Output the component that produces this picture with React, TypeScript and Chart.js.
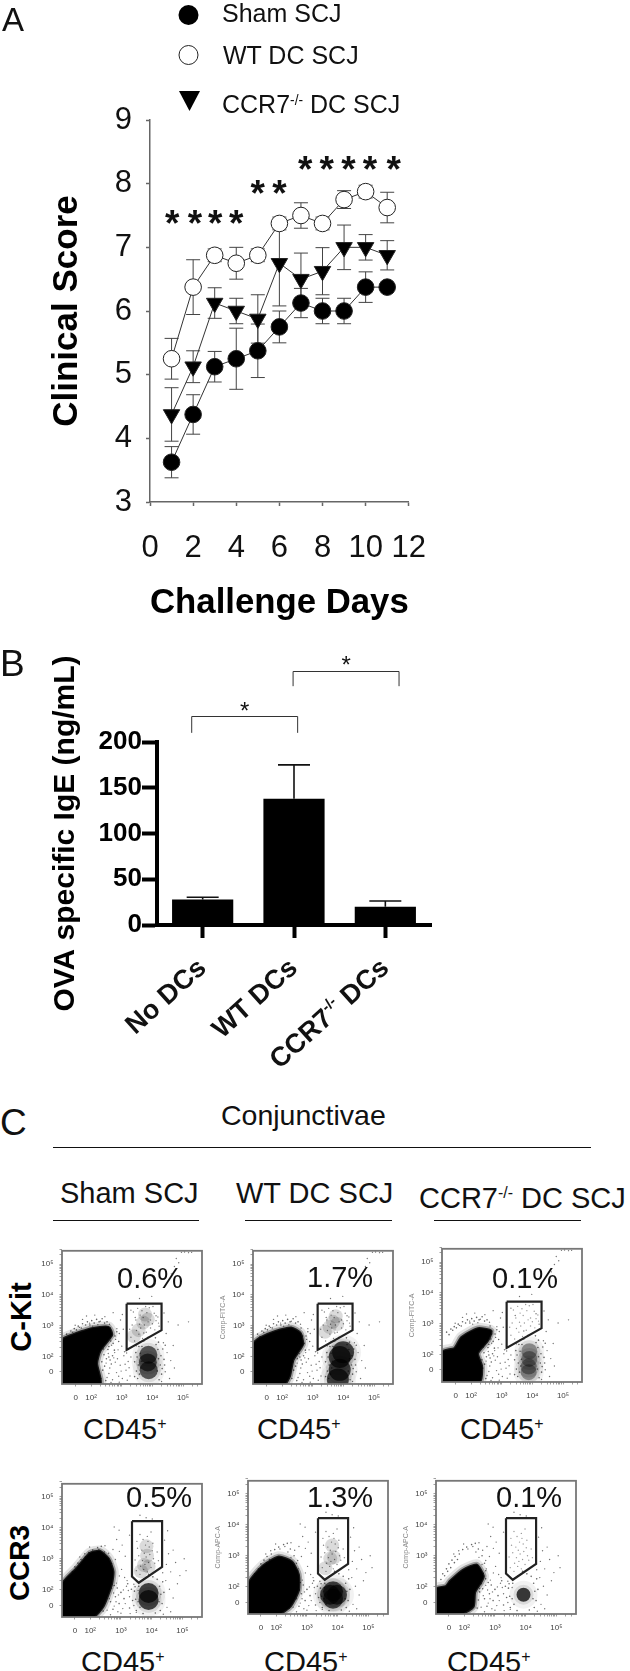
import React, { useEffect, useRef } from "react";
import { Chart, registerables } from "chart.js";

Chart.register(...registerables);

type Pt = [number, number];

/* ---------- Panel A data ---------- */
const DAYS = [1, 2, 3, 4, 5, 6, 7, 8, 9, 10, 11];
const SHAM = [3.625, 4.375, 5.125, 5.25, 5.375, 5.75, 6.125, 6.0, 6.0, 6.375, 6.375];
const SHAM_ERR = [0.245, 0.31, 0.24, 0.48, 0.42, 0.25, 0.23, 0.2, 0.2, 0.24, 0.02];
const WT = [5.25, 6.375, 6.875, 6.75, 6.875, 7.375, 7.5, 7.375, 7.75, 7.875, 7.625];
const WT_ERR = [0.32, 0.43, 0.1, 0.25, 0.1, 0.1, 0.2, 0.1, 0.14, 0.1, 0.24];
const CCR7 = [4.375, 5.125, 6.125, 6.0, 5.875, 6.75, 6.5, 6.625, 7.0, 7.0, 6.875];
const CCR7_ERR = [0.42, 0.25, 0.24, 0.2, 0.38, 0.67, 0.41, 0.37, 0.35, 0.2, 0.23];
const STARS_A: Pt[] = [[1.03, 7.49], [2.08, 7.49], [3.02, 7.49], [4.0, 7.49], [5.0, 7.96], [6.0, 7.96],
  [7.2, 8.34], [8.2, 8.34], [9.2, 8.34], [10.2, 8.34], [11.3, 8.34]];

/* ---------- Panel B data ---------- */
const GROUPS = ["No DCs", "WT DCs", "CCR7-/- DCs"];
const IGE = [28, 138, 20];
const IGE_ERR = [2.3, 37, 6.3];
const BRACKETS = [
  { from: -0.12, to: 1.04, top: 228, foot: 210, star: 240 },
  { from: 0.99, to: 2.15, top: 278, foot: 261, star: 291 },
];

/* ---------- Panel C data (decade units) ---------- */
const MINOR_TICKS = [1.5, 2, 2.3, 2.48, 2.6, 2.7, 2.78, 2.85, 2.9, 2.95, 3, 3.3, 3.48, 3.6, 3.7, 3.78, 3.85, 3.9, 3.95, 4,
  4.3, 4.48, 4.6, 4.7, 4.78, 4.85, 4.9, 4.95, 5, 5.3, 5.48];
const TICK_NAMES: Record<string, string> = { "1.5": "0", "2": "10²", "3": "10³", "4": "10⁴", "5": "10⁵" };

const GATE_ROW1: Pt[] = [[3.16, 3.71], [4.3, 3.71], [4.3, 2.85], [3.16, 2.21], [3.16, 3.71]];
const GATE_ROW2: Pt[] = [[3.36, 4.21], [4.34, 4.21], [4.34, 2.74], [3.58, 2.23], [3.36, 2.43], [3.36, 4.21]];

const SPARSE_ROW1: Pt[] = [
  [2.52, 1.31], [2.61, 1.62], [2.7, 1.24], [2.74, 1.95], [2.83, 1.47], [2.88, 2.21], [2.95, 1.71], [3.02, 1.28], [3.07, 2.02], [3.14, 1.55],
  [3.21, 1.83], [3.27, 1.36], [2.56, 2.09], [2.67, 2.36], [2.79, 1.81], [2.92, 1.16], [3.0, 2.33], [3.11, 1.74], [3.18, 1.22], [3.3, 1.98],
  [2.49, 1.78], [2.58, 1.44], [2.86, 1.92], [2.98, 1.52], [3.09, 2.15], [3.24, 1.63], [2.65, 1.15], [2.77, 2.12], [2.9, 1.35], [3.16, 2.11],
  [1.48, 3.01], [1.72, 3.2], [1.95, 3.08], [2.12, 3.34], [2.3, 3.14], [2.45, 3.29], [2.6, 3.04], [2.72, 3.42], [2.84, 2.9], [2.96, 3.18],
  [1.62, 2.94], [1.85, 3.31], [2.05, 2.98], [2.22, 3.03], [2.54, 2.78], [2.68, 2.66], [2.8, 2.55], [2.92, 2.74], [3.05, 2.88], [3.02, 3.36],
  [3.3, 3.5], [3.44, 3.26], [3.58, 3.88], [3.72, 2.76], [3.86, 2.62], [3.98, 3.95], [4.12, 3.32], [4.22, 2.98], [4.38, 3.41], [4.45, 2.74],
  [4.52, 3.12], [4.36, 2.44], [4.48, 2.12], [4.6, 1.86], [4.68, 2.35], [4.42, 1.5], [4.56, 1.28], [4.3, 1.18], [4.72, 1.62], [4.84, 3.02],
  [5.18, 3.12], [4.62, 4.68], [4.72, 4.92], [4.86, 5.04], [4.78, 5.18], [4.95, 5.38], [5.05, 5.39], [5.18, 5.37], [5.28, 5.38], [3.48, 2.34],
];
const SPECK_ROW1: Pt[] = [
  [2.32, 1.28], [2.38, 1.55], [2.35, 1.82], [2.42, 2.05], [2.48, 1.21], [2.44, 1.68], [2.5, 1.92], [2.55, 2.22], [2.62, 1.88], [2.4, 2.24],
  [2.72, 2.42], [2.78, 2.66], [2.84, 2.8], [2.76, 2.2], [2.64, 2.5], [2.58, 2.32], [2.9, 2.48], [2.7, 2.02], [2.66, 1.75], [2.58, 1.98],
  [1.2, 2.72], [1.34, 2.82], [1.45, 2.9], [1.58, 2.98], [1.72, 3.06], [1.88, 3.12], [2.02, 3.16], [2.18, 3.2], [2.36, 3.22], [2.52, 3.12],
  [1.28, 2.64], [1.4, 2.78], [1.52, 2.86], [1.68, 2.92], [1.82, 3.02], [1.96, 3.02], [2.1, 3.08], [2.26, 3.12], [2.44, 3.08], [2.62, 2.92],
  [3.42, 1.82], [3.48, 1.52], [3.46, 2.12], [3.52, 1.28], [3.5, 1.98], [3.56, 2.32], [3.42, 1.34], [4.26, 1.72], [4.3, 1.42], [4.28, 2.02],
  [4.34, 2.24], [4.32, 1.6], [4.38, 1.9], [4.42, 2.36], [3.6, 2.46], [3.72, 2.5], [4.1, 2.6], [4.2, 2.46], [3.54, 1.72], [4.4, 1.72],
  [3.58, 1.42], [3.6, 2.1], [3.62, 1.62], [4.18, 2.22], [4.22, 1.24], [4.16, 1.52], [4.2, 1.92], [3.64, 1.84], [3.66, 2.32], [4.12, 2.38],
];
const GATE_SPECK_ROW1: Pt[] = [
  [3.3, 2.62], [3.42, 2.5], [3.56, 2.72], [3.68, 2.58], [3.8, 2.78], [3.94, 2.92], [4.08, 2.86], [4.2, 3.08], [3.34, 3.02], [3.46, 3.18],
  [3.58, 3.04], [3.7, 3.26], [3.82, 3.42], [3.94, 3.18], [4.06, 3.4], [4.18, 3.28], [3.38, 3.44], [3.52, 3.56], [3.66, 3.48], [3.78, 3.62],
  [3.9, 3.58], [4.02, 3.62], [3.26, 2.88], [3.48, 2.84], [3.62, 2.92], [3.74, 3.02], [3.86, 3.12], [4.0, 3.06], [4.12, 3.16], [3.6, 3.34],
];
const SPARSE_ROW2: Pt[] = [
  [2.55, 1.35], [2.62, 1.72], [2.7, 2.05], [2.78, 1.48], [2.85, 2.22], [2.92, 1.84], [3.0, 1.25], [3.08, 2.0], [3.14, 1.56], [3.2, 2.3],
  [3.28, 1.78], [2.6, 2.35], [2.72, 2.58], [2.84, 1.62], [2.95, 2.45], [3.06, 1.4], [3.18, 2.12], [3.3, 1.24], [2.5, 1.95], [2.66, 1.2],
  [2.76, 1.9], [2.9, 1.3], [3.02, 2.66], [3.12, 2.4], [3.24, 1.98], [2.58, 2.72], [2.7, 2.85], [2.82, 2.98], [2.48, 2.95], [2.38, 3.12],
  [2.28, 3.3], [2.12, 3.22], [1.98, 3.38], [1.82, 3.16], [1.66, 3.06], [2.48, 3.42], [2.6, 3.18], [2.74, 3.3], [2.86, 3.62], [2.94, 3.92],
  [3.04, 3.44], [3.14, 3.08], [2.78, 4.02], [3.28, 3.76], [2.95, 3.24], [3.62, 4.4], [3.82, 4.32], [4.02, 4.28], [4.42, 3.6], [4.55, 3.16],
  [4.48, 2.82], [4.62, 2.58], [4.78, 2.88], [4.92, 2.46], [5.06, 3.0], [5.12, 2.62], [4.46, 2.3], [4.58, 2.02], [4.7, 1.74], [4.5, 1.44],
  [4.38, 1.22], [4.62, 1.3], [3.42, 2.18], [3.56, 1.98], [3.42, 1.5], [3.5, 1.28], [4.52, 3.9], [4.36, 2.55], [4.84, 2.2], [4.7, 3.28],
];
const SPECK_ROW2: Pt[] = [
  [2.42, 1.32], [2.46, 1.58], [2.5, 1.84], [2.56, 2.1], [2.62, 2.44], [2.66, 1.62], [2.7, 2.26], [2.74, 1.38], [2.78, 2.14], [2.82, 1.78],
  [2.52, 2.32], [2.6, 1.94], [2.88, 2.06], [2.94, 1.56], [3.0, 1.92], [3.1, 1.72], [3.22, 2.2], [3.34, 2.02], [3.38, 1.66], [3.28, 1.42],
  [1.3, 2.42], [1.42, 2.58], [1.5, 2.74], [1.6, 2.86], [1.7, 2.98], [1.84, 3.06], [1.95, 3.2], [2.08, 3.28], [2.24, 3.36], [2.36, 3.4],
  [1.24, 2.24], [1.36, 2.36], [1.46, 2.5], [1.56, 2.62], [1.68, 2.78], [1.78, 2.88], [2.58, 3.0], [2.66, 2.76], [2.7, 2.52], [2.46, 3.22],
  [3.44, 1.96], [3.48, 1.7], [3.46, 2.1], [3.5, 1.34], [3.58, 2.12], [3.62, 1.44], [4.26, 2.12], [4.3, 1.86], [4.34, 1.56], [4.28, 1.34],
  [4.36, 2.26], [4.18, 2.34], [3.74, 2.34], [4.04, 2.42], [3.9, 2.5], [4.12, 1.26], [3.72, 1.24], [4.4, 1.92], [3.56, 1.62], [4.24, 1.62],
];
const GATE_SPECK_ROW2: Pt[] = [
  [3.5, 2.62], [3.62, 2.5], [3.74, 2.66], [3.86, 2.58], [3.98, 2.72], [4.1, 2.86], [4.22, 2.94], [3.46, 2.96], [3.58, 3.1], [3.7, 2.94],
  [3.82, 3.06], [3.94, 3.14], [4.06, 3.0], [4.18, 3.22], [3.54, 3.34], [3.68, 3.28], [3.8, 3.44], [3.92, 3.38], [4.04, 3.5], [3.72, 3.62],
  [3.86, 3.72], [3.98, 3.86], [3.62, 3.78], [3.78, 2.82], [3.9, 2.88], [4.02, 3.26], [3.64, 2.76], [3.76, 3.18], [3.88, 3.56], [3.52, 3.56],
];

/* outline of each dense population, then the smaller populations */
const P11_MASS: Pt[] = [[1.05, 1.1], [2.3, 1.1], [2.19, 1.77], [2.3, 2.18], [2.68, 2.7], [2.57, 2.95], [1.98, 2.9], [1.12, 2.59], [1.05, 2.4], [1.05, 1.1]];
const P11_CLUSTER: Pt[] = [[3.87, 2.05], [3.85, 1.8], [3.88, 1.55]];
const P11_GATE: Pt[] = [[3.76, 3.36], [3.7, 3.1], [3.55, 2.85], [3.85, 3.2], [3.4, 2.65]];

const P12_MASS: Pt[] = [[1.05, 1.1], [2.08, 1.1], [2.25, 1.36], [2.36, 1.87], [2.5, 2.1], [2.68, 2.4], [2.6, 2.75], [2.3, 2.93], [1.76, 2.81], [1.27, 2.6], [1.05, 2.39], [1.05, 1.1]];
const P12_CLUSTER: Pt[] = [[3.88, 1.98], [3.88, 1.56], [3.82, 1.25], [3.99, 2.13]];
const P12_GATE: Pt[] = [[3.66, 3.12], [3.75, 3.3], [3.55, 2.95], [3.4, 2.8], [3.8, 3.05]];

const P13_MASS: Pt[] = [[1.05, 1.1], [2.28, 1.1], [2.35, 1.62], [2.22, 2.03], [2.55, 2.45], [2.66, 2.76], [2.22, 2.84], [1.68, 2.55], [1.46, 2.2], [1.05, 2.08], [1.05, 1.1]];
const P13_CLUSTER: Pt[] = [[3.9, 2.1], [3.9, 1.85], [3.88, 1.6], [3.88, 1.42]];
const P13_GATE: Pt[] = [];

const P21_MASS: Pt[] = [[1.08, 1.13], [2.09, 1.13], [2.42, 1.46], [2.7, 2.18], [2.75, 2.59], [2.6, 3.0], [2.31, 3.25], [1.98, 3.18], [1.55, 2.69], [1.08, 2.18], [1.08, 1.13]];
const P21_CLUSTER: Pt[] = [[3.9, 1.9], [3.9, 1.68]];
const P21_GATE: Pt[] = [[3.83, 3.4], [3.85, 3.1], [3.75, 2.8], [3.65, 2.6], [3.9, 2.75]];

const P22_MASS: Pt[] = [[1.08, 1.13], [2.08, 1.13], [2.46, 1.37], [2.73, 1.89], [2.73, 2.4], [2.51, 2.81], [2.08, 2.97], [1.54, 2.66], [1.08, 2.09], [1.08, 1.13]];
const P22_CLUSTER: Pt[] = [[3.85, 1.86], [3.85, 1.62], [3.75, 1.75], [3.98, 1.75]];
const P22_GATE: Pt[] = [[3.76, 2.91], [3.82, 3.33], [3.6, 2.6], [3.88, 2.95]];

const P23_MASS: Pt[] = [[1.08, 1.13], [1.97, 1.16], [2.3, 1.37], [2.35, 1.83], [2.55, 2.15], [2.63, 2.35], [2.41, 2.71], [1.97, 2.55], [1.54, 2.19], [1.4, 2.02], [1.08, 1.94], [1.08, 1.13]];
const P23_CLUSTER: Pt[] = [[3.93, 1.75]];
const P23_GATE: Pt[] = [];

/* ---------- drawing helpers ---------- */
const FONT = '"Liberation Sans", Arial, sans-serif';

const pts = (a: Pt[]) => a.map(([x, y]) => ({ x, y }));

const errorBars = {
  id: "errorBars",
  beforeDatasetsDraw(chart: any) {
    const { ctx } = chart;
    chart.data.datasets.forEach((ds: any, di: number) => {
      const meta = chart.getDatasetMeta(di);
      const yS = chart.scales.y;
      if (!ds.errors) return;
      ctx.save();
      ctx.strokeStyle = ds.errorColor;
      ctx.lineWidth = ds.errorWidth;
      meta.data.forEach((el: any, i: number) => {
        const hi = yS.getPixelForValue(ds.errorValues[i] + ds.errors[i]);
        const lo = yS.getPixelForValue(ds.errorValues[i] - ds.errors[i]);
        const x = el.x;
        ctx.beginPath();
        ctx.moveTo(x, ds.errorUpOnly ? yS.getPixelForValue(ds.errorValues[i]) : lo);
        ctx.lineTo(x, hi);
        ctx.moveTo(x - ds.errorCap, hi);
        ctx.lineTo(x + ds.errorCap, hi);
        if (!ds.errorUpOnly) {
          ctx.moveTo(x - ds.errorCap, lo);
          ctx.lineTo(x + ds.errorCap, lo);
        }
        ctx.stroke();
      });
      ctx.restore();
    });
  },
};

const starsA = {
  id: "starsA",
  afterDraw(chart: any) {
    const { ctx, scales } = chart;
    ctx.save();
    ctx.font = `bold 37px ${FONT}`;
    ctx.textAlign = "center";
    ctx.fillStyle = "#111";
    ctx.textBaseline = "alphabetic";
    STARS_A.forEach(([d, v]) => ctx.fillText("*", scales.x.getPixelForValue(d), scales.y.getPixelForValue(v) + 19.5));
    ctx.restore();
  },
};

const legendKeys = {
  id: "legendKeys",
  afterDraw(chart: any) {
    const { ctx } = chart;
    ctx.save();
    ctx.strokeStyle = "#222";
    ctx.lineWidth = 1;
    ctx.fillStyle = "#000";
    ctx.beginPath();
    ctx.arc(188.5, 15, 10, 0, Math.PI * 2);
    ctx.fill();
    ctx.beginPath();
    ctx.fillStyle = "#fff";
    ctx.arc(188.5, 55, 9.5, 0, Math.PI * 2);
    ctx.fill();
    ctx.stroke();
    ctx.beginPath();
    ctx.fillStyle = "#000";
    ctx.moveTo(179, 91);
    ctx.lineTo(200, 91);
    ctx.lineTo(189.5, 111);
    ctx.closePath();
    ctx.fill();
    ctx.restore();
  },
};

const bLabels = {
  id: "bLabels",
  afterDraw(chart: any) {
    const { ctx, scales } = chart;
    const yS = scales.y;
    const xS = scales.x;
    ctx.save();
    ctx.strokeStyle = "#333";
    ctx.lineWidth = 1;
    ctx.fillStyle = "#111";
    BRACKETS.forEach((b) => {
      const l = xS.getPixelForValue(b.from);
      const r = xS.getPixelForValue(b.to);
      const t = Math.round(yS.getPixelForValue(b.top)) + 0.5;
      const f = yS.getPixelForValue(b.foot);
      ctx.beginPath();
      ctx.moveTo(l, f);
      ctx.lineTo(l, t);
      ctx.lineTo(r, t);
      ctx.lineTo(r, f);
      ctx.stroke();
      ctx.font = `24px ${FONT}`;
      ctx.textAlign = "center";
      ctx.fillText("*", (l + r) / 2, yS.getPixelForValue(b.star) + 14);
    });
    // rotated category labels, with the genotype's -/- set as a superscript
    GROUPS.forEach((label, i) => {
      const x = xS.getPixelForTick(i) + 5;
      const y = yS.getPixelForValue(0) + 45;
      ctx.save();
      ctx.translate(x, y);
      ctx.rotate((-42 * Math.PI) / 180);
      ctx.textAlign = "left";
      ctx.textBaseline = "alphabetic";
      const parts = label.split("-/-");
      const big = `bold 27px ${FONT}`;
      const small = `bold 15px ${FONT}`;
      ctx.font = big;
      let total = ctx.measureText(parts.join("")).width;
      if (parts.length > 1) {
        ctx.font = small;
        total += ctx.measureText("-/-").width;
      }
      let cx = -total;
      ctx.font = big;
      ctx.fillText(parts[0], cx, 0);
      cx += ctx.measureText(parts[0]).width;
      if (parts.length > 1) {
        ctx.font = small;
        ctx.fillText("-/-", cx, -11);
        cx += ctx.measureText("-/-").width;
        ctx.font = big;
        ctx.fillText(parts[1], cx, 0);
      }
      ctx.restore();
    });
    ctx.restore();
  },
};

const plotFrame = {
  id: "plotFrame",
  afterDraw(chart: any) {
    const { ctx, chartArea: a } = chart;
    ctx.save();
    ctx.strokeStyle = "#777";
    ctx.lineWidth = 1.8;
    ctx.strokeRect(a.left, a.top, a.right - a.left, a.bottom - a.top);
    ctx.restore();
  },
};

/* ---------- charts ---------- */
function useChart(make: (c: HTMLCanvasElement) => Chart) {
  const ref = useRef<HTMLCanvasElement>(null);
  useEffect(() => {
    const c = make(ref.current!);
    return () => c.destroy();
  }, []);
  return ref;
}

const lineSeries = (label: string, values: number[], errs: number[], fill: string, style: string, rot: number, r: number) => ({
  label,
  data: DAYS.map((x, i) => ({ x, y: values[i] })),
  showLine: true,
  borderColor: "#333",
  borderWidth: 1,
  pointBackgroundColor: fill,
  pointBorderColor: "#222",
  pointBorderWidth: 1,
  pointRadius: r,
  pointStyle: style,
  pointRotation: rot,
  errors: errs,
  errorValues: values,
  errorColor: "#444",
  errorWidth: 1,
  errorCap: 7,
});

function PanelA() {
  const ref = useChart(
    (c) =>
      new Chart(c, {
        type: "scatter",
        data: {
          datasets: [
            lineSeries("Sham SCJ", SHAM, SHAM_ERR, "#000", "circle", 0, 8.3),
            lineSeries("CCR7-/- DC SCJ", CCR7, CCR7_ERR, "#000", "triangle", 180, 9.5),
            lineSeries("WT DC SCJ", WT, WT_ERR, "#fff", "circle", 0, 8.3),
          ] as any,
        },
        options: {
          responsive: false,
          animation: false,
          layout: { autoPadding: false, padding: { top: 120, right: 35, left: 0, bottom: 0 } },
          plugins: { legend: { display: false }, tooltip: { enabled: false } },
          scales: {
            x: {
              type: "linear",
              min: 0,
              max: 12,
              afterFit: (s: any) => { s.height = 138; },
              grid: { drawOnChartArea: false, tickLength: 4, tickColor: "#666", tickWidth: 1.5 },
              border: { color: "#666", width: 1.5 },
              ticks: { stepSize: 2, padding: 24, color: "#111", maxRotation: 0, font: { family: FONT, size: 31 } },
              title: { display: true, text: "Challenge Days", color: "#000", padding: { top: 0, bottom: 16 }, font: { family: FONT, size: 35, weight: "bold" } },
            },
            y: {
              min: 3,
              max: 9,
              afterFit: (s: any) => { s.width = 150; },
              grid: { drawOnChartArea: false, tickLength: 4, tickColor: "#666", tickWidth: 1.5 },
              border: { color: "#666", width: 1.5 },
              ticks: { stepSize: 1, padding: 14, color: "#111", font: { family: FONT, size: 31 } },
              title: { display: true, text: "Clinical Score", color: "#000", padding: { top: 46, bottom: 0 }, font: { family: FONT, size: 35, weight: "bold" } },
            },
          },
        } as any,
        plugins: [errorBars, starsA, legendKeys],
      })
  );
  return <canvas ref={ref} width={450} height={640} style={{ position: "absolute", left: 0, top: 0 }} />;
}

function PanelB() {
  const ref = useChart(
    (c) =>
      new Chart(c, {
        type: "bar",
        data: {
          labels: GROUPS,
          datasets: [
            {
              label: "OVA specific IgE",
              data: IGE,
              backgroundColor: "#000",
              barPercentage: 1,
              categoryPercentage: 0.67,
              errors: IGE_ERR,
              errorValues: IGE,
              errorColor: "#111",
              errorWidth: 1.6,
              errorCap: 16,
              errorUpOnly: true,
            },
          ] as any,
        },
        options: {
          responsive: false,
          animation: false,
          layout: { autoPadding: false, padding: { top: 102, right: 19, left: 0, bottom: 0 } },
          plugins: { legend: { display: false }, tooltip: { enabled: false } },
          scales: {
            x: {
              afterFit: (s: any) => { s.height = 155; },
              grid: { drawOnChartArea: false, offset: false, tickLength: 13, tickWidth: 4, tickColor: "#000" },
              border: { color: "#000", width: 4 },
              ticks: { display: false },
            },
            y: {
              min: 0,
              max: 200,
              afterFit: (s: any) => { s.width = 157; },
              grid: { drawOnChartArea: false, tickLength: 15, tickWidth: 4, tickColor: "#000" },
              border: { color: "#000", width: 4 },
              ticks: { stepSize: 50, padding: 0, color: "#000", font: { family: FONT, size: 26, weight: "bold" } },
              title: { display: true, text: "OVA specific IgE (ng/mL)", color: "#000", padding: { top: 48, bottom: 0 }, font: { family: FONT, size: 30, weight: "bold" } },
            },
          },
        } as any,
        plugins: [errorBars, bLabels],
      })
  );
  return <canvas ref={ref} width={450} height={440} style={{ position: "absolute", left: 0, top: 640 }} />;
}

type FlowProps = {
  left: number; top: number; xMin: number; xMax: number; yMin: number; yMax: number;
  gate: Pt[]; sparse: Pt[]; speck: Pt[]; gateSpeck: Pt[]; mass: Pt[]; cluster: Pt[]; gateCloud: Pt[];
  clusterR: number; clusterAlpha: number; gateSpeckAlpha: number; axisName?: string;
};

const blob = (label: string, a: Pt[], r: number, color: string) => ({
  label,
  data: pts(a),
  clip: 0,
  pointRadius: r,
  pointBackgroundColor: color,
  pointBorderWidth: 0,
});

const outline = (label: string, a: Pt[], width: number, color: string, fill: boolean) => ({
  label,
  data: pts(a),
  showLine: true,
  fill: fill ? "shape" : false,
  clip: 0,
  backgroundColor: "#000",
  borderColor: color,
  borderWidth: width,
  tension: 0.2,
  pointRadius: 0,
});

function Flow(p: FlowProps) {
  const axis = (min: number, max: number, size: number, padding: number, extra: any) => ({
    type: "linear",
    min,
    max,
    afterFit: (s: any) => { if (s.isHorizontal()) s.height = size; else s.width = size; },
    afterBuildTicks: (s: any) => { s.ticks = MINOR_TICKS.map((value) => ({ value })); },
    grid: { drawOnChartArea: false, tickLength: 2.5, tickColor: "#777", tickWidth: 0.7 },
    border: { display: false },
    ticks: {
      autoSkip: false,
      maxRotation: 0,
      padding,
      color: "#444",
      font: { family: FONT, size: 8 },
      callback: (v: number) => TICK_NAMES[String(v)] ?? "",
    },
    ...extra,
  });
  const ref = useChart(
    (c) =>
      new Chart(c, {
        type: "scatter",
        data: {
          datasets: [
            { label: "gate", data: pts(p.gate), showLine: true, borderColor: "#222", borderWidth: 2.2, pointRadius: 0 },
            blob("cluster", p.cluster, p.clusterR, `rgba(0,0,0,${p.clusterAlpha})`),
            blob("cluster halo", p.cluster, p.clusterR + 3, "rgba(0,0,0,0.1)"),
            blob("cluster fringe", p.cluster, p.clusterR + 7, "rgba(0,0,0,0.05)"),
            blob("gate specks", p.gateSpeck, 0.7, `rgba(0,0,0,${p.gateSpeckAlpha})`),
            blob("gate cloud", p.gateCloud, 7, "rgba(0,0,0,0.14)"),
            blob("specks", p.speck, 0.8, "rgba(0,0,0,0.6)"),
            blob("sparse", p.sparse, 0.7, "rgba(0,0,0,0.55)"),
            outline("dense population", p.mass, 2.5, "rgba(0,0,0,0.85)", true),
            outline("population edge", p.mass, 6, "rgba(0,0,0,0.3)", false),
            outline("population fringe", p.mass, 11, "rgba(0,0,0,0.1)", false),
          ] as any,
        },
        options: {
          responsive: false,
          animation: false,
          layout: { autoPadding: false, padding: { top: 4, right: 4, left: 0, bottom: 0 } },
          plugins: { legend: { display: false }, tooltip: { enabled: false } },
          scales: {
            x: axis(p.xMin, p.xMax, 26, 6, {}),
            y: axis(p.yMin, p.yMax, 38, 6, p.axisName
              ? { title: { display: true, text: p.axisName, color: "#888", padding: { top: 4, bottom: 0 }, font: { family: FONT, size: 7 } } }
              : {}),
          },
        } as any,
        plugins: [plotFrame],
      })
  );
  return <canvas ref={ref} width={182} height={170} style={{ position: "absolute", left: p.left - 38, top: p.top - 4, filter: "blur(0.5px)" }} />;
}

/* ---------- text ---------- */
function Txt({ x, y, size, children }: any) {
  return (
    <div style={{ position: "absolute", left: x, top: y - 0.3465 * size, lineHeight: 0, fontSize: size, fontFamily: FONT, whiteSpace: "nowrap", color: "#111" }}>
      {children}
    </div>
  );
}
function Sup({ children }: any) {
  return <sup style={{ fontSize: "0.55em", verticalAlign: "0.6em", lineHeight: 0 }}>{children}</sup>;
}
function VTxt({ cx, cy, size, children }: any) {
  return (
    <div style={{ position: "absolute", left: cx, top: cy, lineHeight: 1, fontSize: size, fontFamily: FONT, fontWeight: 700, whiteSpace: "nowrap", color: "#000", transform: "translate(-50%,-50%) rotate(-90deg)" }}>
      {children}
    </div>
  );
}
function Rule({ x, w, y, h = 1.7 }: any) {
  return <div style={{ position: "absolute", left: x, width: w, top: y, height: h, background: "#111" }} />;
}

const R1 = { xMin: 1.05, xMax: 5.62, yMin: 1.1, yMax: 5.43, gate: GATE_ROW1, sparse: SPARSE_ROW1, speck: SPECK_ROW1, gateSpeck: GATE_SPECK_ROW1 };
const R2 = { xMin: 1.08, xMax: 5.64, yMin: 1.13, yMax: 5.41, gate: GATE_ROW2, sparse: SPARSE_ROW2, speck: SPECK_ROW2, gateSpeck: GATE_SPECK_ROW2 };

export default function App() {
  return (
    <div style={{ position: "absolute", left: 0, top: 0, width: 630, height: 1671, overflow: "hidden", background: "#fff" }}>
      <PanelA />
      <PanelB />

      <Txt x={2} y={31} size={33}>A</Txt>
      <Txt x={222} y={22} size={25}>Sham SCJ</Txt>
      <Txt x={223} y={64} size={25}>WT DC SCJ</Txt>
      <Txt x={222} y={110} size={25}>CCR7<Sup>-/-</Sup> DC SCJ</Txt>
      <Txt x={0} y={677} size={37}>B</Txt>
      <Txt x={0} y={1136} size={37}>C</Txt>

      <Txt x={221} y={1125} size={28.5}>Conjunctivae</Txt>
      <Rule x={53} w={538} y={1146.5} />
      <Txt x={60} y={1203} size={29}>Sham SCJ</Txt>
      <Txt x={236} y={1203} size={29}>WT DC SCJ</Txt>
      <Txt x={419} y={1203} size={29}>CCR7<Sup>-/-</Sup> DC SCJ</Txt>
      <Rule x={53} w={146} y={1219.5} />
      <Rule x={245} w={147} y={1219.5} />
      <Rule x={434} w={147} y={1219.5} />

      <VTxt cx={21} cy={1317} size={29}>C-Kit</VTxt>
      <VTxt cx={20} cy={1563} size={28}>CCR3</VTxt>

      <Flow left={62} top={1244} {...R1} mass={P11_MASS} cluster={P11_CLUSTER} gateCloud={P11_GATE} clusterR={9} clusterAlpha={0.6} gateSpeckAlpha={0.5} />
      <Flow left={253} top={1244} {...R1} mass={P12_MASS} cluster={P12_CLUSTER} gateCloud={P12_GATE} clusterR={11} clusterAlpha={0.7} gateSpeckAlpha={0.5} axisName="Comp-FITC-A" />
      <Flow left={442} top={1242} {...R1} mass={P13_MASS} cluster={P13_CLUSTER} gateCloud={P13_GATE} clusterR={8} clusterAlpha={0.35} gateSpeckAlpha={0.4} axisName="Comp-FITC-A" />

      <Flow left={62} top={1477} {...R2} mass={P21_MASS} cluster={P21_CLUSTER} gateCloud={P21_GATE} clusterR={10} clusterAlpha={0.7} gateSpeckAlpha={0.5} />
      <Flow left={248} top={1474} {...R2} mass={P22_MASS} cluster={P22_CLUSTER} gateCloud={P22_GATE} clusterR={10} clusterAlpha={0.65} gateSpeckAlpha={0.5} axisName="Comp-APC-A" />
      <Flow left={436} top={1474} {...R2} mass={P23_MASS} cluster={P23_CLUSTER} gateCloud={P23_GATE} clusterR={7} clusterAlpha={0.75} gateSpeckAlpha={0.4} axisName="Comp-APC-A" />

      <Txt x={117} y={1288} size={29}>0.6%</Txt>
      <Txt x={307} y={1287} size={29}>1.7%</Txt>
      <Txt x={492} y={1288} size={29}>0.1%</Txt>
      <Txt x={126} y={1507} size={29}>0.5%</Txt>
      <Txt x={307} y={1507} size={29}>1.3%</Txt>
      <Txt x={496} y={1507} size={29}>0.1%</Txt>

      <Txt x={83} y={1434} size={29}>CD45<Sup>+</Sup></Txt>
      <Txt x={257} y={1434} size={29}>CD45<Sup>+</Sup></Txt>
      <Txt x={460} y={1434} size={29}>CD45<Sup>+</Sup></Txt>
      <Txt x={81} y={1667} size={29}>CD45<Sup>+</Sup></Txt>
      <Txt x={264} y={1667} size={29}>CD45<Sup>+</Sup></Txt>
      <Txt x={447} y={1667} size={29}>CD45<Sup>+</Sup></Txt>
    </div>
  );
}
